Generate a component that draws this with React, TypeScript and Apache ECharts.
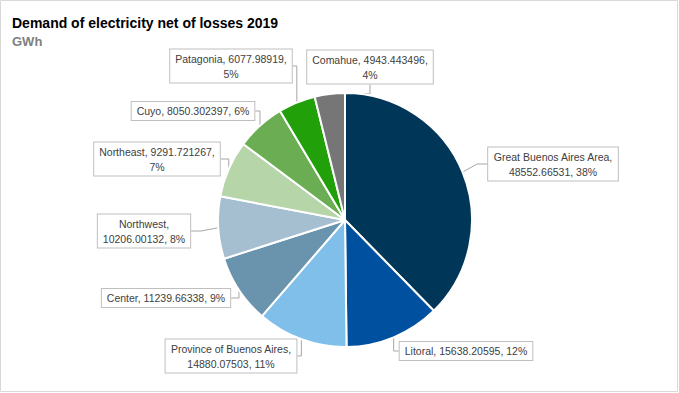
import React, { useEffect, useRef } from "react";
import * as echarts from "echarts";

const regions = [
  "Great Buenos Aires Area",
  "Litoral",
  "Province of Buenos Aires",
  "Center",
  "Northwest",
  "Northeast",
  "Cuyo",
  "Patagonia",
  "Comahue",
];
const demandGWh = [
  48552.66531, 15638.20595, 14880.07503, 11239.66338, 10206.00132, 9291.721267,
  8050.302397, 6077.98919, 4943.443496,
];
const sliceColors = [
  "#003658",
  "#0050a0",
  "#7fbfea",
  "#6a93ae",
  "#a6bfd0",
  "#b6d5a8",
  "#6aad53",
  "#22a00a",
  "#767676",
];
// 0: one line, 1: break after name, 2: break before percent
const labelWrap = [1, 0, 1, 0, 1, 2, 0, 2, 2];
// label box centres (px)
const labelCentres: [number, number][] = [
  [553, 164],
  [466, 351],
  [231, 356],
  [166, 298],
  [144, 231],
  [157, 159],
  [193, 111],
  [231, 66],
  [370, 67],
];

export default function App() {
  const ref = useRef<HTMLDivElement>(null);
  useEffect(() => {
    document.body.style.margin = "0";
    const chart = echarts.init(ref.current!, undefined, { renderer: "svg" });
    chart.setOption({
      animation: false,
      backgroundColor: "#ffffff",
      title: [
        {
          text: "Demand of electricity net of losses 2019",
          left: 7,
          top: 11,
          padding: 5,
          textStyle: {
            fontFamily: "Liberation Sans",
            fontWeight: "bold",
            fontSize: 14,
            color: "#000000",
          },
        },
        {
          text: "GWh",
          left: 7,
          top: 30,
          padding: 5,
          textStyle: {
            fontFamily: "Liberation Sans",
            fontWeight: "bold",
            fontSize: 13,
            color: "#808080",
          },
        },
      ],
      graphic: [
        {
          type: "rect",
          shape: { x: 0.5, y: 0.5, width: 677, height: 391 },
          style: { fill: "none", stroke: "#d9d9d9", lineWidth: 1 },
          silent: true,
        },
      ],
      series: [
        {
          type: "pie",
          center: [345, 220],
          radius: 127,
          startAngle: 90,
          clockwise: true,
          percentPrecision: 0,
          itemStyle: { borderColor: "#ffffff", borderWidth: 2 },
          label: {
            show: true,
            position: "outside",
            fontFamily: "Liberation Sans",
            fontSize: 10.5,
            lineHeight: 15,
            color: "#404040",
            backgroundColor: "#ffffff",
            borderColor: "#bfbfbf",
            borderWidth: 1,
            padding: [2, 5, 1, 5],
            align: "center",
            formatter: (p: any) => {
              const i = p.dataIndex;
              const v = String(demandGWh[i]);
              const pc = p.percent + "%";
              const w = labelWrap[i];
              if (w === 1) return `${p.name},\n${v}, ${pc}`;
              if (w === 2) return `${p.name}, ${v},\n${pc}`;
              return `${p.name}, ${v}, ${pc}`;
            },
          },
          labelLine: {
            show: true,
            length: 10,
            length2: 10,
            lineStyle: { color: "#a6a6a6", width: 1 },
          },
          labelLayout: (p: any) => {
            const c = labelCentres[p.dataIndex];
            return { x: c[0], y: c[1], align: "center", verticalAlign: "middle" };
          },
          data: regions.map((name, i) => ({
            name,
            value: demandGWh[i],
            itemStyle: { color: sliceColors[i] },
          })),
        },
      ],
    });
    return () => chart.dispose();
  }, []);
  return <div ref={ref} style={{ width: 679, height: 393 }} />;
}
